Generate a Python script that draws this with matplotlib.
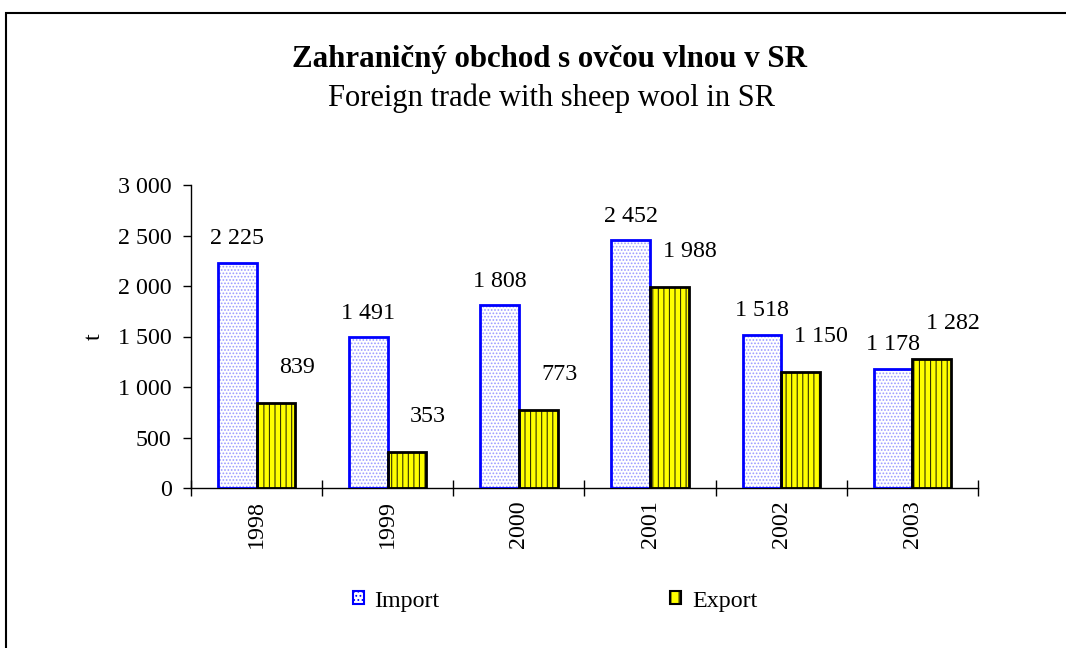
import matplotlib
matplotlib.use("Agg")
import matplotlib.pyplot as plt
from matplotlib.patches import Patch, Rectangle
from matplotlib.ticker import FixedLocator, FuncFormatter
import numpy as np

years = ["1998", "1999", "2000", "2001", "2002", "2003"]
imports = [2225, 1491, 1808, 2452, 1518, 1178]
exports = [839, 353, 773, 1988, 1150, 1282]
title = "Zahraničný obchod s ovčou vlnou v SR"
subtitle = "Foreign trade with sheep wool in SR"
ylabel = "t"
series_names = ["Import", "Export"]

plt.rcParams['font.family'] = ['Liberation Serif', 'DejaVu Serif']
plt.rcParams['hatch.linewidth'] = 0.8

def fmt(v, pos=None):
    return f"{int(v):,}".replace(",", " ")

fig = plt.figure(figsize=(10.66, 6.48), dpi=100)
ax = fig.add_axes([191/1066, 1-488/648, (978-191)/1066, (488-185)/648])

x = np.arange(len(years))
w = 0.295
imp_col = '#0000ff'
# import bars: dotted fill + blue outline
ax.bar(x - w/2, imports, w, facecolor='white', edgecolor='#9a9aff', hatch='.....', linewidth=0, zorder=2)
ax.bar(x - w/2, imports, w, fill=False, edgecolor=imp_col, linewidth=2, zorder=3)
# export bars: yellow with vertical black lines
ax.bar(x + w/2, exports, w, facecolor='#ffff00', edgecolor='#333300', hatch='|||', linewidth=0, zorder=2)
ax.bar(x + w/2, exports, w, fill=False, edgecolor='black', linewidth=2, zorder=3)

fs = 17.3
for xi, v in zip(x, imports):
    ax.annotate(fmt(v), (xi - w/2, v), xytext=(0, 17.5), textcoords='offset points',
                ha='center', va='center', fontsize=fs)
for xi, v in zip(x, exports):
    ax.annotate(fmt(v), (xi + w/2, v), xytext=(15, 25.5), textcoords='offset points',
                ha='center', va='center', fontsize=fs)

ax.set_xlim(-0.5, len(years) - 0.5)
ax.set_ylim(0, 3000)
ax.yaxis.set_major_locator(FixedLocator(np.arange(0, 3001, 500)))
ax.yaxis.set_major_formatter(FuncFormatter(fmt))
ax.tick_params(axis='y', direction='out', length=6, width=1, labelsize=fs, pad=8)

ax.set_xticks(x)
ax.set_xticklabels(years, rotation=90, fontsize=fs)
ax.tick_params(axis='x', which='major', length=0, pad=9)
ax.set_xticks(np.arange(-0.5, len(years), 1), minor=True)
ax.tick_params(axis='x', which='minor', direction='inout', length=12, width=1)

for s in ['top', 'right']:
    ax.spines[s].set_visible(False)
ax.spines['left'].set_linewidth(1)
ax.spines['bottom'].set_linewidth(1)

ax.set_ylabel(ylabel, fontsize=fs, rotation=90, labelpad=9)

fig.text(550/1066, 1-59/648, title, ha='center', va='center', fontsize=22.2, fontweight='bold')
fig.text(551/1066, 1-98/648, subtitle, ha='center', va='center', fontsize=22.0)

handles = [
    Patch(facecolor='white', edgecolor=imp_col, hatch='....', linewidth=1.5),
    Patch(facecolor='#ffff00', edgecolor='black', hatch='||', linewidth=1.5),
]
fig.legend(handles, series_names, loc='center', bbox_to_anchor=(555/1066, 1-601/648),
           ncol=2, frameon=False, fontsize=fs, handlelength=0.45, handleheight=0.45,
           handletextpad=0.45, columnspacing=9.6)

fig.patches.append(Rectangle((6/1066, -0.1), 1.2, 1 - 13/648 + 0.1, fill=False,
                             edgecolor='black', linewidth=1.5, transform=fig.transFigure))

fig.savefig("out.png", dpi=100, facecolor='white')
